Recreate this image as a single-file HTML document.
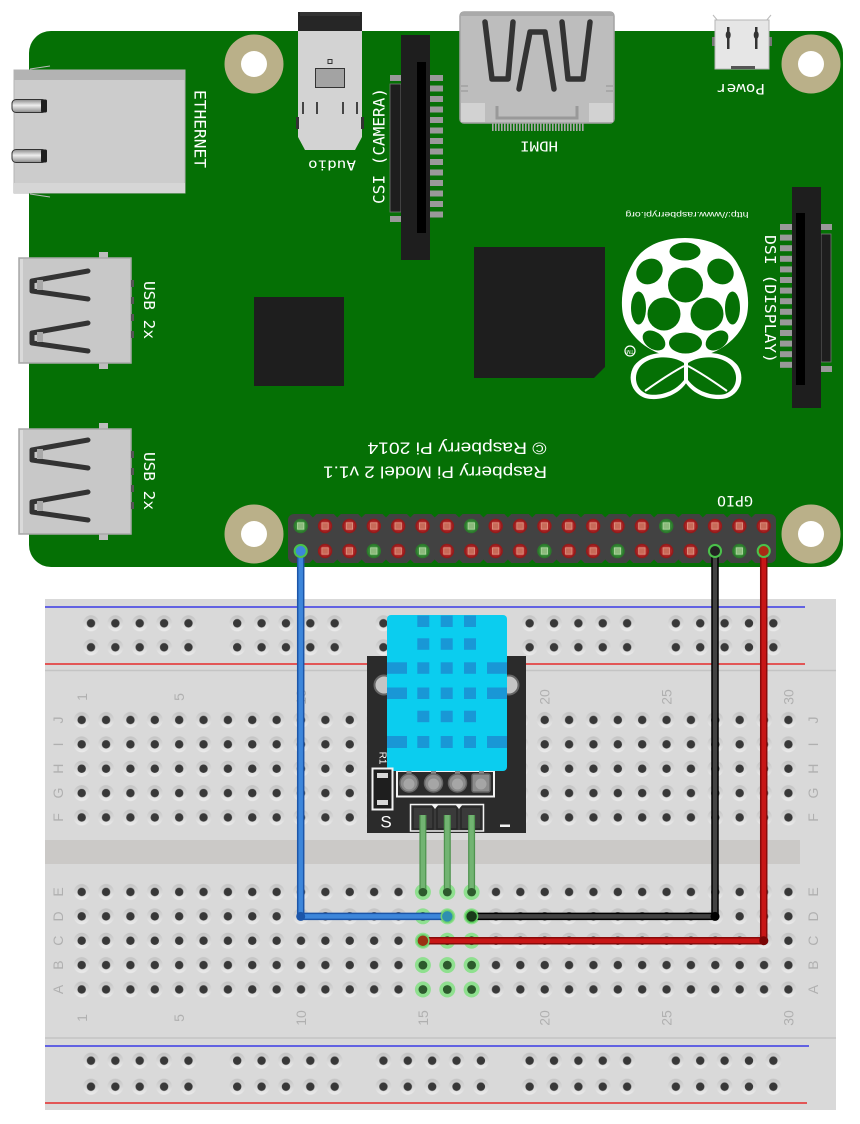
<!DOCTYPE html>
<html><head><meta charset="utf-8"><title>Raspberry Pi DHT11</title>
<style>
html,body{margin:0;padding:0;background:#fff;}
svg{display:block;}
.m{font-family:"DejaVu Sans Mono","Liberation Mono",monospace;fill:#fff;}
.s{font-family:"Liberation Sans",sans-serif;fill:#fff;}
.bl{font-family:"Liberation Sans",sans-serif;fill:#b0b0b0;font-size:14px;}
</style></head>
<body>
<svg width="860" height="1124" viewBox="0 0 860 1124" xmlns="http://www.w3.org/2000/svg">
<defs>
  <linearGradient id="hg" x1="0" y1="0" x2="0" y2="1">
    <stop offset="0" stop-color="#c2c2c2"/><stop offset="1" stop-color="#ececec"/>
  </linearGradient>
  <linearGradient id="tabg" x1="0" y1="0" x2="0" y2="1">
    <stop offset="0" stop-color="#8a8a8a"/><stop offset="0.45" stop-color="#eeeeee"/><stop offset="1" stop-color="#8a8a8a"/>
  </linearGradient>
  <pattern id="hp" patternUnits="userSpaceOnUse" width="24.37" height="24.37">
    <circle cx="12.185" cy="12.185" r="8" fill="url(#hg)"/>
    <circle cx="12.185" cy="12.185" r="4.2" fill="#383838"/>
  </pattern>
  <pattern id="rp" patternUnits="userSpaceOnUse" width="146.22" height="30">
    <g fill="url(#hg)">
      <circle cx="12.185" cy="15" r="8"/><circle cx="36.555" cy="15" r="8"/><circle cx="60.925" cy="15" r="8"/><circle cx="85.295" cy="15" r="8"/><circle cx="109.665" cy="15" r="8"/>
    </g>
    <g fill="#383838">
      <circle cx="12.185" cy="15" r="4.2"/><circle cx="36.555" cy="15" r="4.2"/><circle cx="60.925" cy="15" r="4.2"/><circle cx="85.295" cy="15" r="4.2"/><circle cx="109.665" cy="15" r="4.2"/>
    </g>
  </pattern>
  <pattern id="ntop" patternUnits="userSpaceOnUse" x="300.7" y="514" width="24.37" height="5">
    <polygon points="8.7,0 15.7,0 12.185,3.5" fill="#057005"/>
  </pattern>
  <pattern id="nbot" patternUnits="userSpaceOnUse" x="300.7" y="558" width="24.37" height="5">
    <polygon points="8.7,5 15.7,5 12.185,1.5" fill="#057005"/>
  </pattern>
  <g id="pr">
    <circle r="7.2" fill="#951b1b"/><circle r="5.6" fill="#ad2626"/>
    <rect x="-3.2" y="-3.2" width="6.4" height="6.4" fill="#c86a58" stroke="#e39a88" stroke-width="0.8"/>
  </g>
  <g id="pg">
    <circle r="7.2" fill="#2b7a2b"/><circle r="5.6" fill="#398a39"/>
    <rect x="-3.2" y="-3.2" width="6.4" height="6.4" fill="#8cba7c" stroke="#b4dca4" stroke-width="0.8"/>
  </g>
  <g id="gh">
    <circle r="8" fill="#8fe08f"/><circle r="4.4" fill="#2d5a2d"/>
  </g>
  <pattern id="hdp" patternUnits="userSpaceOnUse" width="3" height="8">
    <rect x="0" y="0" width="1.6" height="8" fill="#a8a8a8"/>
  </pattern>
</defs>

<!-- ================= BREADBOARD ================= -->
<rect x="45" y="599" width="791" height="511" fill="#d9d9d9"/>
<line x1="45" y1="607" x2="805" y2="607" stroke="#3a3ae6" stroke-width="1.6"/>
<line x1="45" y1="664" x2="805" y2="664" stroke="#e62a2a" stroke-width="1.6"/>
<line x1="45" y1="670.5" x2="836" y2="670.5" stroke="#c4c4c4" stroke-width="1.5"/>
<rect x="45" y="840" width="755" height="24" fill="#cbc9c7"/>
<line x1="45" y1="1038" x2="836" y2="1038" stroke="#c4c4c4" stroke-width="1.5"/>
<line x1="45" y1="1046" x2="809" y2="1046" stroke="#3a3ae6" stroke-width="1.6"/>
<line x1="45" y1="1103" x2="807" y2="1103" stroke="#e62a2a" stroke-width="1.6"/>

<!-- rail holes -->
<rect x="0" y="0" width="706.7" height="30" fill="url(#rp)" transform="translate(78.8,608.3)"/>
<rect x="0" y="0" width="706.7" height="30" fill="url(#rp)" transform="translate(78.8,632.3)"/>
<rect x="0" y="0" width="706.7" height="30" fill="url(#rp)" transform="translate(78.8,1045.7)"/>
<rect x="0" y="0" width="706.7" height="30" fill="url(#rp)" transform="translate(78.8,1071.7)"/>
<!-- main holes -->
<rect x="0" y="0" width="731.1" height="121.85" fill="url(#hp)" transform="translate(69.5,707.8)"/>
<rect x="0" y="0" width="731.1" height="121.85" fill="url(#hp)" transform="translate(69.5,879.8)"/>

<!-- column numbers -->
<g class="bl" text-anchor="middle" dominant-baseline="central">
  <text x="82" y="697" transform="rotate(-90 82 697)">1</text>
  <text x="179.2" y="697" transform="rotate(-90 179.2 697)">5</text>
  <text x="301" y="697" transform="rotate(-90 301 697)">10</text>
  <text x="544.7" y="697" transform="rotate(-90 544.7 697)">20</text>
  <text x="666.6" y="697" transform="rotate(-90 666.6 697)">25</text>
  <text x="788.4" y="697" transform="rotate(-90 788.4 697)">30</text>
  <text x="82" y="1018" transform="rotate(-90 82 1018)">1</text>
  <text x="179.2" y="1018" transform="rotate(-90 179.2 1018)">5</text>
  <text x="301" y="1018" transform="rotate(-90 301 1018)">10</text>
  <text x="422.9" y="1018" transform="rotate(-90 422.9 1018)">15</text>
  <text x="544.7" y="1018" transform="rotate(-90 544.7 1018)">20</text>
  <text x="666.6" y="1018" transform="rotate(-90 666.6 1018)">25</text>
  <text x="788.4" y="1018" transform="rotate(-90 788.4 1018)">30</text>
  <!-- row letters left -->
  <text x="58" y="720" transform="rotate(-90 58 720)">J</text>
  <text x="58" y="744.4" transform="rotate(-90 58 744.4)">I</text>
  <text x="58" y="768.7" transform="rotate(-90 58 768.7)">H</text>
  <text x="58" y="793.1" transform="rotate(-90 58 793.1)">G</text>
  <text x="58" y="817.5" transform="rotate(-90 58 817.5)">F</text>
  <text x="58" y="892" transform="rotate(-90 58 892)">E</text>
  <text x="58" y="916.4" transform="rotate(-90 58 916.4)">D</text>
  <text x="58" y="940.7" transform="rotate(-90 58 940.7)">C</text>
  <text x="58" y="965.1" transform="rotate(-90 58 965.1)">B</text>
  <text x="58" y="989.5" transform="rotate(-90 58 989.5)">A</text>
  <!-- row letters right -->
  <text x="813" y="720" transform="rotate(-90 813 720)">J</text>
  <text x="813" y="744.4" transform="rotate(-90 813 744.4)">I</text>
  <text x="813" y="768.7" transform="rotate(-90 813 768.7)">H</text>
  <text x="813" y="793.1" transform="rotate(-90 813 793.1)">G</text>
  <text x="813" y="817.5" transform="rotate(-90 813 817.5)">F</text>
  <text x="813" y="892" transform="rotate(-90 813 892)">E</text>
  <text x="813" y="916.4" transform="rotate(-90 813 916.4)">D</text>
  <text x="813" y="940.7" transform="rotate(-90 813 940.7)">C</text>
  <text x="813" y="965.1" transform="rotate(-90 813 965.1)">B</text>
  <text x="813" y="989.5" transform="rotate(-90 813 989.5)">A</text>
</g>

<!-- highlighted green holes cols 15-17 -->
<g>
  <use href="#gh" x="422.9" y="892"/><use href="#gh" x="447.3" y="892"/><use href="#gh" x="471.6" y="892"/>
  <use href="#gh" x="422.9" y="916.4"/><use href="#gh" x="447.3" y="916.4"/><use href="#gh" x="471.6" y="916.4"/>
  <use href="#gh" x="422.9" y="940.7"/><use href="#gh" x="447.3" y="940.7"/><use href="#gh" x="471.6" y="940.7"/>
  <use href="#gh" x="422.9" y="965.1"/><use href="#gh" x="447.3" y="965.1"/><use href="#gh" x="471.6" y="965.1"/>
  <use href="#gh" x="422.9" y="989.5"/><use href="#gh" x="447.3" y="989.5"/><use href="#gh" x="471.6" y="989.5"/>
</g>

<!-- ================= DHT11 MODULE ================= -->
<rect x="367" y="656" width="159" height="177" fill="#2b2b2b"/>
<circle cx="384" cy="685" r="9.5" fill="#c4c4c4" stroke="#666" stroke-width="2"/>
<circle cx="509" cy="685" r="9.5" fill="#c4c4c4" stroke="#666" stroke-width="2"/>
<!-- header silkscreen box -->
<rect x="397" y="771" width="97" height="25.5" fill="none" stroke="#f2f2f2" stroke-width="2"/>
<g fill="#8a8a8a">
  <rect x="406.5" y="765" width="5" height="16"/><rect x="431" y="765" width="5" height="16"/>
  <rect x="455" y="765" width="5" height="16"/><rect x="479" y="765" width="5" height="16"/>
</g>
<g stroke="#666" stroke-width="1.5">
  <circle cx="409" cy="783" r="9" fill="#8c8c8c"/><circle cx="433.5" cy="783" r="9" fill="#8c8c8c"/>
  <circle cx="457.5" cy="783" r="9" fill="#8c8c8c"/>
  <rect x="472" y="774" width="18" height="18" rx="2" fill="#8c8c8c"/>
</g>
<g fill="#a6a6a6">
  <circle cx="409" cy="784" r="5.5"/><circle cx="433.5" cy="784" r="5.5"/><circle cx="457.5" cy="784" r="5.5"/><circle cx="481" cy="784" r="5.5"/>
</g>
<!-- sensor body -->
<rect x="387" y="615" width="120" height="156" rx="4" fill="#0bcdef"/>
<g fill="#1997d6">
  <rect x="417.3" y="615.5" width="12" height="11.5"/><rect x="440.7" y="615.5" width="12" height="11.5"/><rect x="464" y="615.5" width="12" height="11.5"/>
  <rect x="417.3" y="638.3" width="12" height="11.5"/><rect x="440.7" y="638.3" width="12" height="11.5"/><rect x="464" y="638.3" width="12" height="11.5"/>
  <rect x="387" y="662.3" width="20" height="11.5"/><rect x="417.3" y="662.3" width="12" height="11.5"/><rect x="440.7" y="662.3" width="12" height="11.5"/><rect x="464" y="662.3" width="12" height="11.5"/><rect x="487" y="662.3" width="20" height="11.5"/>
  <rect x="387" y="687.5" width="20" height="11.5"/><rect x="417.3" y="687.5" width="12" height="11.5"/><rect x="440.7" y="687.5" width="12" height="11.5"/><rect x="464" y="687.5" width="12" height="11.5"/><rect x="487" y="687.5" width="20" height="11.5"/>
  <rect x="417.3" y="710.7" width="12" height="11.5"/><rect x="440.7" y="710.7" width="12" height="11.5"/><rect x="464" y="710.7" width="12" height="11.5"/>
  <rect x="387" y="736" width="20" height="12"/><rect x="417.3" y="736" width="12" height="12"/><rect x="440.7" y="736" width="12" height="12"/><rect x="464" y="736" width="12" height="12"/><rect x="487" y="736" width="20" height="12"/>
</g>
<!-- R1 resistor -->
<rect x="372.5" y="768.5" width="20" height="41" fill="#1e1e1e" stroke="#f2f2f2" stroke-width="2"/>
<rect x="377" y="773" width="11" height="5" fill="#d8d8d8"/>
<rect x="377" y="800" width="11" height="5" fill="#d8d8d8"/>
<text class="s" x="382" y="758" font-size="10" text-anchor="middle" dominant-baseline="central" transform="rotate(90 382 758)">R1</text>
<text class="s" x="386" y="822" font-size="17" text-anchor="middle" dominant-baseline="central">S</text>
<rect x="500" y="824.5" width="10" height="2.5" fill="#f2f2f2"/>
<!-- 3 pin header -->
<rect x="410.5" y="804.5" width="73" height="26.5" fill="#3a3a3a" stroke="#f2f2f2" stroke-width="1.5"/>
<g fill="none" stroke="#262626" stroke-width="1.5">
  <rect x="413" y="807" width="20" height="22"/><rect x="437" y="807" width="20" height="22"/><rect x="461" y="807" width="20" height="22"/>
</g>
<g fill="#f2f2f2">
  <polygon points="431,804 439,804 435,809"/><polygon points="455,804 463,804 459,809"/>
</g>
<!-- green legs -->
<g stroke="#4f934f" stroke-width="7" stroke-linecap="butt">
  <line x1="422.9" y1="815" x2="422.9" y2="892"/><line x1="447.3" y1="815" x2="447.3" y2="892"/><line x1="471.6" y1="815" x2="471.6" y2="892"/>
</g>
<g stroke="#72b472" stroke-width="4.5">
  <line x1="422.9" y1="815" x2="422.9" y2="890"/><line x1="447.3" y1="815" x2="447.3" y2="890"/><line x1="471.6" y1="815" x2="471.6" y2="890"/>
</g>
<g fill="#2d5a2d">
  <circle cx="422.9" cy="892" r="4"/><circle cx="447.3" cy="892" r="4"/><circle cx="471.6" cy="892" r="4"/>
</g>

<!-- ================= RASPBERRY PI ================= -->
<rect x="29" y="31" width="814" height="536" rx="22" fill="#057005"/>

<!-- mounting holes -->
<g fill="#bab089">
  <circle cx="254" cy="64" r="29.5"/><circle cx="811" cy="64" r="29.5"/>
  <circle cx="254" cy="534" r="29.5"/><circle cx="811" cy="534" r="29.5"/>
</g>
<g fill="#fff">
  <circle cx="254" cy="64" r="13"/><circle cx="811" cy="64" r="13"/>
  <circle cx="254" cy="534" r="13"/><circle cx="811" cy="534" r="13"/>
</g>

<!-- Ethernet -->
<line x1="30" y1="69" x2="50" y2="66" stroke="#bbb" stroke-width="1"/>
<line x1="30" y1="194" x2="50" y2="197" stroke="#bbb" stroke-width="1"/>
<rect x="14" y="70" width="171" height="123" fill="#cccccc" stroke="#b5b5b5" stroke-width="1"/>
<rect x="14" y="70" width="171" height="10" fill="#b3b3b3"/>
<rect x="14" y="183" width="171" height="10" fill="#d6d6d6"/>
<rect x="12" y="99.5" width="34" height="13" rx="4" fill="url(#tabg)" stroke="#333" stroke-width="1"/>
<rect x="41" y="99.5" width="6" height="13" rx="1.5" fill="#1e1e1e"/>
<rect x="12" y="149.5" width="34" height="13" rx="4" fill="url(#tabg)" stroke="#333" stroke-width="1"/>
<rect x="41" y="149.5" width="6" height="13" rx="1.5" fill="#1e1e1e"/>
<text class="m" x="200" y="129" font-size="16" text-anchor="middle" dominant-baseline="central" textLength="78" lengthAdjust="spacingAndGlyphs" transform="rotate(90 200 129)">ETHERNET</text>

<!-- USB 1 -->
<rect x="99" y="252" width="9" height="8" fill="#bdbdbd"/>
<rect x="99" y="361" width="9" height="8" fill="#bdbdbd"/>
<rect x="19" y="258" width="112" height="105" fill="#c8c8c8" stroke="#a9a9a9" stroke-width="1.5"/>
<rect x="20" y="259" width="3" height="103" fill="#dadada"/>
<g fill="#555"><rect x="131" y="280" width="3" height="7"/><rect x="131" y="297" width="3" height="7"/><rect x="131" y="314" width="3" height="7"/><rect x="131" y="331" width="3" height="7"/></g>
<g fill="none" stroke="#333" stroke-width="5" stroke-linecap="round" stroke-linejoin="round">
  <path d="M88 271 L32 281 L32 291 L88 299"/>
  <path d="M88 323 L32 333 L32 343 L88 351"/>
</g>
<g fill="#a8a8a8"><rect x="37" y="280" width="6" height="10"/><rect x="37" y="332" width="6" height="10"/></g>
<text class="m" x="149" y="310" font-size="15" text-anchor="middle" dominant-baseline="central" textLength="58" lengthAdjust="spacingAndGlyphs" transform="rotate(90 149 310)">USB 2x</text>

<!-- USB 2 -->
<rect x="99" y="423" width="9" height="8" fill="#bdbdbd"/>
<rect x="99" y="532" width="9" height="8" fill="#bdbdbd"/>
<rect x="19" y="429" width="112" height="105" fill="#c8c8c8" stroke="#a9a9a9" stroke-width="1.5"/>
<rect x="20" y="430" width="3" height="103" fill="#dadada"/>
<g fill="#555"><rect x="131" y="451" width="3" height="7"/><rect x="131" y="468" width="3" height="7"/><rect x="131" y="485" width="3" height="7"/><rect x="131" y="502" width="3" height="7"/></g>
<g fill="none" stroke="#333" stroke-width="5" stroke-linecap="round" stroke-linejoin="round">
  <path d="M88 440 L32 450 L32 460 L88 468"/>
  <path d="M88 492 L32 502 L32 512 L88 520"/>
</g>
<g fill="#a8a8a8"><rect x="37" y="449" width="6" height="10"/><rect x="37" y="501" width="6" height="10"/></g>
<text class="m" x="149" y="481" font-size="15" text-anchor="middle" dominant-baseline="central" textLength="58" lengthAdjust="spacingAndGlyphs" transform="rotate(90 149 481)">USB 2x</text>

<!-- chips -->
<rect x="254" y="297" width="90" height="89" fill="#1e1e1e"/>
<polygon points="474,247 605,247 605,367 594,378 474,378" fill="#1e1e1e"/>

<!-- Audio jack -->
<rect x="298" y="12" width="64" height="20" fill="#262626"/>
<rect x="300" y="12" width="60" height="4" fill="#333"/>
<path d="M298 31 L362 31 L362 137 L355 150 L305 150 L298 137 Z" fill="#d3d3d3"/>
<rect x="296" y="117" width="3" height="12" fill="#333"/>
<rect x="361" y="117" width="3" height="12" fill="#333"/>
<rect x="315.5" y="68.5" width="29" height="19" fill="#a3a3a3" stroke="#333" stroke-width="1"/>
<rect x="328" y="59.5" width="4" height="4" fill="#d3d3d3" stroke="#333" stroke-width="1"/>
<g fill="#444"><rect x="302" y="102" width="2" height="12"/><rect x="316" y="102" width="2" height="12"/><rect x="342" y="102" width="2" height="12"/><rect x="356" y="102" width="2" height="12"/></g>
<text class="m" x="332" y="164" font-size="13" text-anchor="middle" dominant-baseline="central" textLength="48" lengthAdjust="spacingAndGlyphs" transform="rotate(180 332 164)">Audio</text>

<!-- CSI connector -->
<rect x="390" y="84" width="11" height="128" fill="#1e1e1e" stroke="#777" stroke-width="0.8"/>
<rect x="390" y="75" width="11" height="6" fill="#999"/>
<rect x="390" y="216" width="11" height="6" fill="#999"/>
<rect x="401" y="35" width="29" height="225" fill="#1e1e1e"/>
<rect x="417" y="62" width="9" height="171" fill="#000"/>
<g fill="#999">
  <rect x="430" y="75" width="13" height="6"/><rect x="430" y="85.5" width="13" height="6"/><rect x="430" y="96" width="13" height="6"/><rect x="430" y="106.5" width="13" height="6"/><rect x="430" y="117" width="13" height="6"/>
  <rect x="430" y="127.5" width="13" height="6"/><rect x="430" y="138" width="13" height="6"/><rect x="430" y="148.5" width="13" height="6"/><rect x="430" y="159" width="13" height="6"/><rect x="430" y="169.5" width="13" height="6"/>
  <rect x="430" y="180" width="13" height="6"/><rect x="430" y="190.5" width="13" height="6"/><rect x="430" y="201" width="13" height="6"/><rect x="430" y="211.5" width="13" height="6"/>
</g>
<text class="m" x="379" y="146" font-size="16" text-anchor="middle" dominant-baseline="central" textLength="116" lengthAdjust="spacingAndGlyphs" transform="rotate(-90 379 146)">CSI (CAMERA)</text>

<!-- HDMI -->
<rect x="491" y="123" width="93" height="8" fill="url(#hdp)"/>
<rect x="460" y="12" width="154" height="111" rx="4" fill="#bdbdbd" stroke="#a3a3a3" stroke-width="1.5"/>
<rect x="461" y="12" width="152" height="4" fill="#a9a9a9"/>
<rect x="461" y="103" width="24" height="19" fill="#d2d2d2"/>
<rect x="589" y="103" width="24" height="19" fill="#d2d2d2"/>
<path d="M497 106 L497 118 L577 118 L577 106" fill="none" stroke="#999" stroke-width="3"/>
<g stroke="#999" stroke-width="1.2"><line x1="461" y1="86" x2="468" y2="86"/><line x1="461" y1="91" x2="468" y2="91"/><line x1="606" y1="86" x2="613" y2="86"/><line x1="606" y1="91" x2="613" y2="91"/></g>
<g fill="none" stroke="#333" stroke-width="5.5" stroke-linecap="round" stroke-linejoin="round">
  <path d="M485 22 L492 79 L508 79 L513 22"/>
  <path d="M519 89 L530 32 L545 32 L554 89"/>
  <path d="M562 22 L568 79 L583 79 L590 22"/>
</g>
<text class="m" x="539" y="145" font-size="13" text-anchor="middle" dominant-baseline="central" textLength="38" lengthAdjust="spacingAndGlyphs" transform="rotate(180 539 145)">HDMI</text>

<!-- Power micro USB -->
<line x1="713" y1="15" x2="718" y2="21" stroke="#bbb" stroke-width="1"/>
<line x1="771" y1="15" x2="766" y2="21" stroke="#bbb" stroke-width="1"/>
<rect x="712" y="37" width="4" height="9" fill="#777"/>
<rect x="768" y="37" width="4" height="9" fill="#777"/>
<rect x="715" y="20" width="54" height="49" fill="#e6e6e6" stroke="#b5b5b5" stroke-width="1"/>
<g fill="#333"><rect x="727" y="27" width="2.5" height="22"/><rect x="755" y="27" width="2.5" height="22"/><ellipse cx="728.2" cy="35" rx="2.5" ry="4"/><ellipse cx="756.2" cy="35" rx="2.5" ry="4"/></g>
<rect x="731" y="66" width="24" height="3" fill="#555"/>
<text class="m" x="741" y="88" font-size="14" text-anchor="middle" dominant-baseline="central" textLength="48" lengthAdjust="spacingAndGlyphs" transform="rotate(180 741 88)">Power</text>

<!-- DSI connector -->
<rect x="821" y="234" width="10" height="128" fill="#1e1e1e" stroke="#777" stroke-width="0.8"/>
<rect x="821" y="224" width="11" height="6" fill="#999"/>
<rect x="821" y="366" width="11" height="6" fill="#999"/>
<rect x="792" y="187" width="29" height="221" fill="#1e1e1e"/>
<rect x="796" y="213" width="9" height="172" fill="#000"/>
<g fill="#999">
  <rect x="780" y="224" width="12" height="6"/><rect x="780" y="234.6" width="12" height="6"/><rect x="780" y="245.2" width="12" height="6"/><rect x="780" y="255.8" width="12" height="6"/><rect x="780" y="266.4" width="12" height="6"/>
  <rect x="780" y="277" width="12" height="6"/><rect x="780" y="287.6" width="12" height="6"/><rect x="780" y="298.2" width="12" height="6"/><rect x="780" y="308.8" width="12" height="6"/><rect x="780" y="319.4" width="12" height="6"/>
  <rect x="780" y="330" width="12" height="6"/><rect x="780" y="340.6" width="12" height="6"/><rect x="780" y="351.2" width="12" height="6"/><rect x="780" y="361.8" width="12" height="6"/>
</g>
<text class="m" x="770" y="299" font-size="15" text-anchor="middle" dominant-baseline="central" textLength="128" lengthAdjust="spacingAndGlyphs" transform="rotate(90 770 299)">DSI (DISPLAY)</text>

<!-- url -->
<text class="s" x="687" y="215" font-size="8.5" text-anchor="middle" dominant-baseline="central" textLength="123" lengthAdjust="spacingAndGlyphs" transform="rotate(180 687 215)">http://www.raspberrypi.org</text>

<!-- Raspberry logo -->
<path d="M685 238 C708 238 727 246 737 263 C747 280 750 299 747 315 C743 333 726 349 706 355 C697 358 690 360 685 360 C680 360 673 358 664 355 C644 349 627 333 623 315 C620 299 623 280 633 263 C643 246 662 238 685 238 Z" fill="#fff"/>
<g fill="#057005">
  <ellipse cx="685" cy="251.5" rx="15.5" ry="9"/>
  <ellipse cx="649.5" cy="271.5" rx="14" ry="12" transform="rotate(-40 649.5 271.5)"/>
  <ellipse cx="720.5" cy="271.5" rx="14" ry="12" transform="rotate(40 720.5 271.5)"/>
  <circle cx="685.5" cy="285" r="17.5"/>
  <ellipse cx="638.5" cy="308" rx="7.5" ry="16.5"/>
  <ellipse cx="732.5" cy="308" rx="7.5" ry="16.5"/>
  <circle cx="664" cy="314" r="16.5"/>
  <circle cx="707" cy="314" r="16.5"/>
  <ellipse cx="654" cy="340.5" rx="12.5" ry="8.5" transform="rotate(35 654 340.5)"/>
  <ellipse cx="717" cy="340.5" rx="12.5" ry="8.5" transform="rotate(-35 717 340.5)"/>
  <ellipse cx="685.5" cy="343" rx="16.5" ry="10.5"/>
</g>
<!-- leaves -->
<path d="M686 360 C672 349 645 351 634 366 C627 377 631 393 645 398 C660 402 680 395 688 380 Z" fill="#fff"/>
<path d="M684 363 C670 354 647 356 639 368 C633 377 636 390 647 394 C660 397 676 391 684 380 Z" fill="#057005"/>
<path d="M686 360 C700 349 727 351 738 366 C745 377 741 393 727 398 C712 402 692 395 684 380 Z" fill="#fff"/>
<path d="M688 363 C702 354 725 356 733 368 C739 377 736 390 725 394 C712 397 696 391 688 380 Z" fill="#057005"/>
<path d="M645 391 C659 381 671 373 684 366" fill="none" stroke="#fff" stroke-width="2"/>
<path d="M727 391 C713 381 701 373 688 366" fill="none" stroke="#fff" stroke-width="2"/>
<circle cx="630" cy="351" r="5" fill="none" stroke="#fff" stroke-width="1.2"/>
<text class="s" x="630" y="351" font-size="5" text-anchor="middle" dominant-baseline="central" transform="rotate(180 630 351)">TM</text>

<!-- board texts -->
<text class="s" x="457" y="448" font-size="17" text-anchor="middle" dominant-baseline="central" textLength="179" lengthAdjust="spacingAndGlyphs" transform="rotate(180 457 448)">© Raspberry Pi 2014</text>
<text class="s" x="435" y="472" font-size="17" text-anchor="middle" dominant-baseline="central" textLength="224" lengthAdjust="spacingAndGlyphs" transform="rotate(180 435 472)">Raspberry Pi Model 2 v1.1</text>
<text class="m" x="735" y="500" font-size="14" text-anchor="middle" dominant-baseline="central" textLength="36" lengthAdjust="spacingAndGlyphs" transform="rotate(180 735 500)">GPIO</text>

<!-- GPIO header -->
<rect x="288" y="514" width="488" height="49" rx="6" fill="#424242"/>
<rect x="300.7" y="514" width="463" height="4" fill="url(#ntop)"/>
<rect x="300.7" y="558" width="463" height="5" fill="url(#nbot)"/>
<g>
  <use href="#pg" x="300.7" y="526"/><use href="#pr" x="325.07" y="526"/><use href="#pr" x="349.44" y="526"/><use href="#pr" x="373.81" y="526"/><use href="#pr" x="398.18" y="526"/>
  <use href="#pr" x="422.55" y="526"/><use href="#pr" x="446.92" y="526"/><use href="#pg" x="471.29" y="526"/><use href="#pr" x="495.66" y="526"/><use href="#pr" x="520.03" y="526"/>
  <use href="#pr" x="544.4" y="526"/><use href="#pr" x="568.77" y="526"/><use href="#pr" x="593.14" y="526"/><use href="#pr" x="617.51" y="526"/><use href="#pr" x="641.88" y="526"/>
  <use href="#pg" x="666.25" y="526"/><use href="#pr" x="690.62" y="526"/><use href="#pr" x="714.99" y="526"/><use href="#pr" x="739.36" y="526"/><use href="#pr" x="763.73" y="526"/>

  <use href="#pg" x="300.7" y="551"/><use href="#pr" x="325.07" y="551"/><use href="#pr" x="349.44" y="551"/><use href="#pg" x="373.81" y="551"/><use href="#pr" x="398.18" y="551"/>
  <use href="#pg" x="422.55" y="551"/><use href="#pr" x="446.92" y="551"/><use href="#pr" x="471.29" y="551"/><use href="#pr" x="495.66" y="551"/><use href="#pr" x="520.03" y="551"/>
  <use href="#pg" x="544.4" y="551"/><use href="#pr" x="568.77" y="551"/><use href="#pr" x="593.14" y="551"/><use href="#pg" x="617.51" y="551"/><use href="#pr" x="641.88" y="551"/>
  <use href="#pr" x="666.25" y="551"/><use href="#pr" x="690.62" y="551"/><use href="#pg" x="714.99" y="551"/><use href="#pg" x="739.36" y="551"/><use href="#pg" x="763.73" y="551"/>
</g>

<!-- ================= WIRES ================= -->
<g fill="none" stroke-linejoin="round" stroke-linecap="round">
  <path d="M300.7 551 L300.7 916.4 L447.3 916.4" stroke="#1c55a8" stroke-width="7.5"/>
  <path d="M300.7 551 L300.7 916.4 L447.3 916.4" stroke="#3d86da" stroke-width="4.5"/>
  <path d="M715 551 L715 916.4 L471.6 916.4" stroke="#000" stroke-width="7.5"/>
  <path d="M715 551 L715 916.4 L471.6 916.4" stroke="#424242" stroke-width="4.5"/>
  <path d="M763.73 551 L763.73 940.7 L422.9 940.7" stroke="#8a0a0a" stroke-width="7.5"/>
  <path d="M763.73 551 L763.73 940.7 L422.9 940.7" stroke="#c81616" stroke-width="4.5"/>
</g>
<!-- wire ends -->
<circle cx="300.7" cy="551" r="6" fill="#3d86da" stroke="#4cc04c" stroke-width="2"/>
<circle cx="715" cy="551" r="6" fill="#222" stroke="#4cc04c" stroke-width="2"/>
<circle cx="763.73" cy="551" r="6" fill="#a82a14" stroke="#4cc04c" stroke-width="2"/>
<circle cx="300.7" cy="916.4" r="4.5" fill="#1c55a8"/>
<circle cx="715" cy="916.4" r="4.5" fill="#000"/>
<circle cx="763.73" cy="940.7" r="4.5" fill="#7a0505"/>
<circle cx="447.3" cy="916.4" r="6" fill="#2f8fb0" stroke="#6fd06f" stroke-width="1.5"/>
<circle cx="471.6" cy="916.4" r="6" fill="#1a3a1a" stroke="#5ccc5c" stroke-width="1.5"/>
<circle cx="422.9" cy="940.7" r="6" fill="#9a3014" stroke="#6fd06f" stroke-width="1.5"/>
</svg>
</body></html>
